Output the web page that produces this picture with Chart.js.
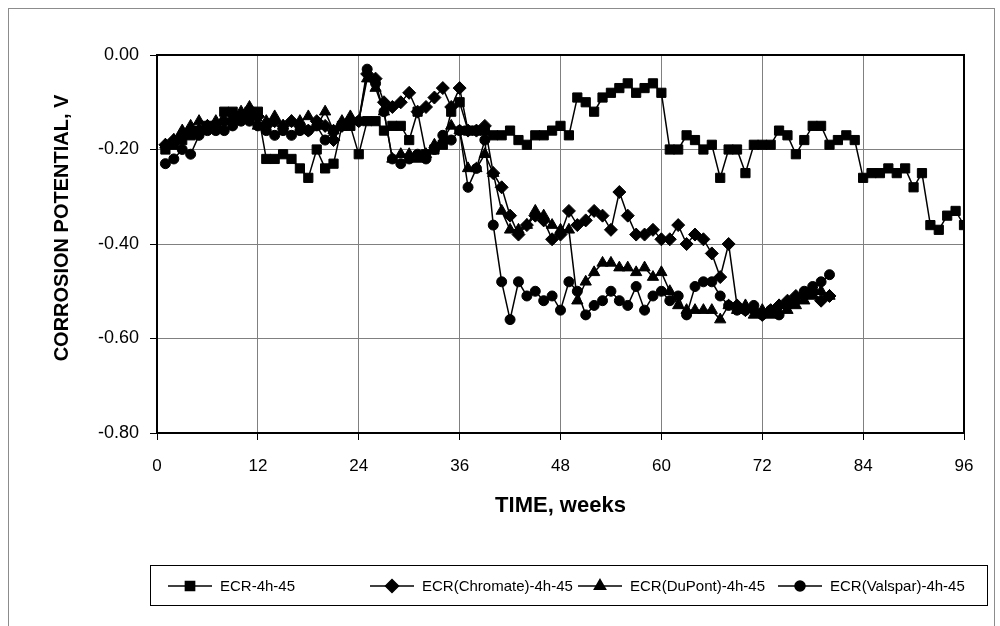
<!DOCTYPE html>
<html>
<head>
<meta charset="utf-8">
<script src="https://cdn.jsdelivr.net/npm/chart.js@4"></script>
<style>
  body { margin: 0; background: #fff; }
</style>
</head>
<body>
<canvas id="chart" width="1000" height="626"></canvas>
<script>
// weeks of exposure
var weeks = [1,2,3,4,5,6,7,8,9,10,11,12,13,14,15,16,17,18,19,20,21,22,23,24,
  25,26,27,28,29,30,31,32,33,34,35,36,37,38,39,40,41,42,43,44,45,46,47,48,
  49,50,51,52,53,54,55,56,57,58,59,60,61,62,63,64,65,66,67,68,69,70,71,72,
  73,74,75,76,77,78,79,80,81,82,83,84,85,86,87,88,89,90,91,92,93,94,95,96];

// corrosion potential, V
var ecr = [-0.20,-0.19,-0.18,-0.17,-0.16,-0.15,-0.15,-0.12,-0.12,-0.13,-0.12,-0.12,
  -0.22,-0.22,-0.21,-0.22,-0.24,-0.26,-0.20,-0.24,-0.23,-0.15,-0.15,-0.21,
  -0.14,-0.14,-0.16,-0.15,-0.15,-0.18,-0.12,-0.21,-0.20,-0.19,-0.12,-0.10,
  -0.16,-0.16,-0.16,-0.17,-0.17,-0.16,-0.18,-0.19,-0.17,-0.17,-0.16,-0.15,
  -0.17,-0.09,-0.10,-0.12,-0.09,-0.08,-0.07,-0.06,-0.08,-0.07,-0.06,-0.08,
  -0.20,-0.20,-0.17,-0.18,-0.20,-0.19,-0.26,-0.20,-0.20,-0.25,-0.19,-0.19,
  -0.19,-0.16,-0.17,-0.21,-0.18,-0.15,-0.15,-0.19,-0.18,-0.17,-0.18,-0.26,
  -0.25,-0.25,-0.24,-0.25,-0.24,-0.28,-0.25,-0.36,-0.37,-0.34,-0.33,-0.36];

var chromate = [-0.19,-0.18,-0.17,-0.16,-0.16,-0.15,-0.15,-0.14,-0.14,-0.13,-0.12,-0.13,
  -0.15,-0.14,-0.15,-0.14,-0.15,-0.16,-0.14,-0.15,-0.18,-0.15,-0.14,-0.14,
  -0.04,-0.05,-0.10,-0.11,-0.10,-0.08,-0.12,-0.11,-0.09,-0.07,-0.11,-0.07,
  -0.16,-0.16,-0.15,-0.25,-0.28,-0.34,-0.38,-0.36,-0.34,-0.35,-0.39,-0.38,
  -0.33,-0.36,-0.35,-0.33,-0.34,-0.37,-0.29,-0.34,-0.38,-0.38,-0.37,-0.39,
  -0.39,-0.36,-0.40,-0.38,-0.39,-0.42,-0.47,-0.40,-0.53,-0.54,-0.54,-0.55,
  -0.54,-0.53,-0.52,-0.51,-0.51,-0.50,-0.52,-0.51];

var dupont = [-0.19,-0.18,-0.16,-0.15,-0.14,-0.15,-0.14,-0.14,-0.13,-0.12,-0.11,-0.15,
  -0.14,-0.13,-0.15,-0.14,-0.14,-0.13,-0.15,-0.12,-0.16,-0.14,-0.13,-0.14,
  -0.05,-0.07,-0.12,-0.22,-0.21,-0.21,-0.22,-0.21,-0.19,-0.18,-0.15,-0.16,
  -0.24,-0.24,-0.21,-0.25,-0.33,-0.37,-0.37,-0.36,-0.33,-0.34,-0.36,-0.37,
  -0.37,-0.52,-0.48,-0.46,-0.44,-0.44,-0.45,-0.45,-0.46,-0.45,-0.47,-0.46,
  -0.50,-0.53,-0.54,-0.54,-0.54,-0.54,-0.56,-0.53,-0.54,-0.53,-0.55,-0.54,
  -0.55,-0.53,-0.54,-0.53,-0.52,-0.51,-0.50,-0.51];

var valspar = [-0.23,-0.22,-0.20,-0.21,-0.17,-0.16,-0.16,-0.16,-0.15,-0.14,-0.14,-0.15,
  -0.16,-0.17,-0.16,-0.17,-0.16,-0.16,-0.15,-0.18,-0.16,-0.15,-0.14,-0.14,
  -0.03,-0.06,-0.12,-0.22,-0.23,-0.22,-0.21,-0.22,-0.20,-0.17,-0.18,-0.16,
  -0.28,-0.24,-0.18,-0.36,-0.48,-0.56,-0.48,-0.51,-0.50,-0.52,-0.51,-0.54,
  -0.48,-0.50,-0.55,-0.53,-0.52,-0.50,-0.52,-0.53,-0.49,-0.54,-0.51,-0.50,
  -0.52,-0.51,-0.55,-0.49,-0.48,-0.48,-0.51,-0.53,-0.54,-0.54,-0.53,-0.55,
  -0.54,-0.55,-0.53,-0.52,-0.50,-0.49,-0.48,-0.465];

var seriesNames = ["ECR-4h-45", "ECR(Chromate)-4h-45", "ECR(DuPont)-4h-45", "ECR(Valspar)-4h-45"];
var pointShapes = ["rect", "rectRot", "triangle", "circle"];
var pointSizes = [6.5, 6.5, 6.5, 5];
var seriesValues = [ecr, chromate, dupont, valspar];

function toPoints(vals) {
  return vals.map(function (v, i) { return { x: weeks[i], y: v }; });
}

var datasets = seriesValues.map(function (vals, i) {
  return {
    label: seriesNames[i],
    data: toPoints(vals),
    borderColor: "#000",
    backgroundColor: "#000",
    borderWidth: 1.5,
    pointStyle: pointShapes[i],
    pointRadius: pointSizes[i],
    pointBackgroundColor: "#000",
    pointBorderColor: "#000",
    pointBorderWidth: 1,
    tension: 0
  };
});

// frame around plot, outer border, y title and the boxed legend
var excelLook = {
  id: "excelLook",
  beforeDraw: function (chart) {
    var ctx = chart.ctx;
    ctx.save();
    ctx.fillStyle = "#fff";
    ctx.fillRect(0, 0, chart.width, chart.height);
    ctx.strokeStyle = "#8c8c8c";
    ctx.lineWidth = 1;
    ctx.strokeRect(8.5, 8.5, 986, 700);
    ctx.restore();
  },
  beforeDatasetsDraw: function (chart) {
    var a = chart.chartArea, ctx = chart.ctx;
    ctx.save();
    ctx.strokeStyle = "#000";
    ctx.lineWidth = 2;
    ctx.strokeRect(a.left, a.top, a.right - a.left, a.bottom - a.top);
    ctx.restore();
  },
  afterDraw: function (chart) {
    var ctx = chart.ctx;
    ctx.save();
    // y axis title (Excel centres it a little above the plot middle)
    ctx.translate(62, 228);
    ctx.rotate(-Math.PI / 2);
    ctx.font = "bold 20px 'Liberation Sans', Arial, sans-serif";
    ctx.textAlign = "center";
    ctx.textBaseline = "middle";
    ctx.fillStyle = "#000";
    ctx.fillText("CORROSION POTENTIAL, V", 0, 0);
    ctx.restore();

    ctx.save();
    ctx.strokeStyle = "#000";
    ctx.lineWidth = 1;
    ctx.strokeRect(150.5, 565.5, 837, 40);
    var starts = [168, 370, 578, 778];
    var cy = 586;
    ctx.font = "15px 'Liberation Sans', Arial, sans-serif";
    ctx.textBaseline = "middle";
    ctx.fillStyle = "#000";
    chart.data.datasets.forEach(function (ds, i) {
      var x0 = starts[i];
      ctx.beginPath();
      ctx.lineWidth = 1.5;
      ctx.moveTo(x0, cy);
      ctx.lineTo(x0 + 44, cy);
      ctx.stroke();
      Chart.helpers.drawPoint(ctx, {
        pointStyle: ds.pointStyle, radius: ds.pointRadius, borderWidth: 1, rotation: 0
      }, x0 + 22, cy);
      ctx.fillText(ds.label, x0 + 52, cy + 1);
    });
    ctx.restore();
  }
};

var ctx = document.getElementById("chart").getContext("2d");
new Chart(ctx, {
  type: "line",
  data: { datasets: datasets },
  plugins: [excelLook],
  options: {
    responsive: false,
    animation: false,
    devicePixelRatio: 1,
    layout: { padding: { left: 0, right: 36, top: 55, bottom: 0 } },
    plugins: { legend: { display: false }, tooltip: { enabled: false } },
    scales: {
      x: {
        type: "linear",
        min: 0,
        max: 96,
        afterFit: function (scale) { scale.height = 193; },
        ticks: {
          stepSize: 12,
          color: "#000",
          padding: 16,
          maxRotation: 0,
          font: { family: "'Liberation Sans', Arial", size: 17 }
        },
        grid: { color: "#808080", tickColor: "#000", tickLength: 7 },
        border: { color: "#000", width: 2 },
        title: {
          display: true,
          text: "TIME, weeks",
          color: "#000",
          font: { family: "'Liberation Sans', Arial", size: 22, weight: "bold" },
          padding: { top: 0, bottom: 107 }
        }
      },
      y: {
        min: -0.8,
        max: 0,
        afterFit: function (scale) { scale.width = 157; },
        ticks: {
          stepSize: 0.2,
          color: "#000",
          padding: 11,
          font: { family: "'Liberation Sans', Arial", size: 18 },
          callback: function (v) { return v.toFixed(2); }
        },
        grid: { color: "#808080", tickColor: "#000", tickLength: 7 },
        border: { color: "#000", width: 2 }
      }
    }
  }
});
</script>
</body>
</html>
